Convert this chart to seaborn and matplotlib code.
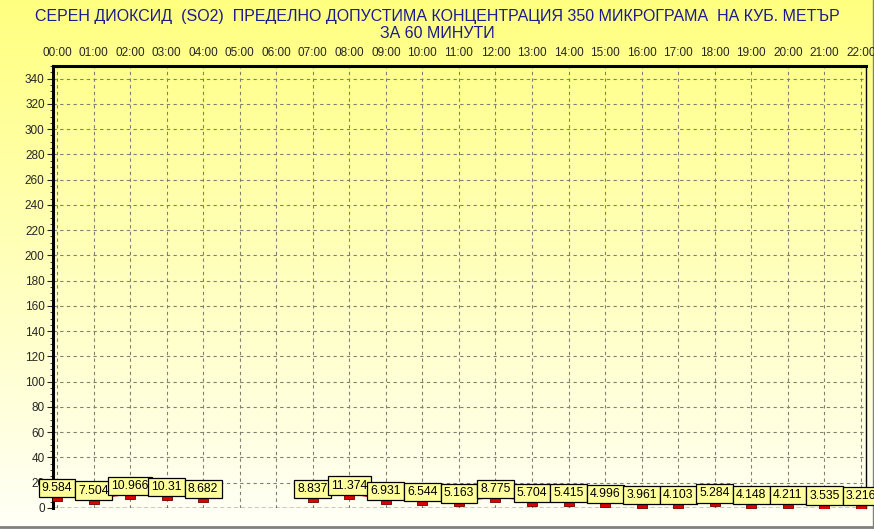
import numpy as np
import pandas as pd
import matplotlib
matplotlib.use("Agg")
import matplotlib.pyplot as plt
import seaborn as sns
from matplotlib.ticker import MultipleLocator

hours = ["00:00", "01:00", "02:00", "03:00", "04:00", "05:00", "06:00", "07:00",
         "08:00", "09:00", "10:00", "11:00", "12:00", "13:00", "14:00", "15:00",
         "16:00", "17:00", "18:00", "19:00", "20:00", "21:00", "22:00"]
values = [9.584, 7.504, 10.966, 10.31, 8.682, None, None, 8.837,
          11.374, 6.931, 6.544, 5.163, 8.775, 5.704, 5.415, 4.996,
          3.961, 4.103, 5.284, 4.148, 4.211, 3.535, 3.216]
labels = ["9.584", "7.504", "10.966", "10.31", "8.682", "", "", "8.837",
          "11.374", "6.931", "6.544", "5.163", "8.775", "5.704", "5.415", "4.996",
          "3.961", "4.103", "5.284", "4.148", "4.211", "3.535", "3.216"]
y_ticks = list(range(0, 341, 20))
title = ("СЕРЕН ДИОКСИД  (SO2)  ПРЕДЕЛНО ДОПУСТИМА КОНЦЕНТРАЦИЯ 350 МИКРОГРАМА  НА КУБ. МЕТЪР\n"
         "ЗА 60 МИНУТИ")

df = pd.DataFrame({"pos": np.arange(len(hours)), "hour": hours,
                   "value": [np.nan if v is None else v for v in values],
                   "label": labels})

sns.set_style("white")
plt.rcParams["font.family"] = ["Liberation Sans", "DejaVu Sans"]

fig = plt.figure(figsize=(8.74, 5.29), dpi=100)

# gradient background
bg = fig.add_axes([0, 0, 1, 1], zorder=-5)
grad = np.linspace(0, 1, 256).reshape(-1, 1)
top = np.array([1.0, 1.0, 0.50])
bot = np.array([1.0, 1.0, 0.97])
img = top[None, None, :] * (1 - grad[:, :, None]) + bot[None, None, :] * grad[:, :, None]
bg.imshow(img, aspect="auto", extent=[0, 1, 0, 1])
bg.set_xlim(0, 1); bg.set_ylim(0, 1)
bg.axis("off")
bg.plot([0, 1], [0.004, 0.004], color="#808080", lw=2)
bg.plot([0.999, 0.999], [0, 1], color="#808080", lw=1)

ax = fig.add_axes([53 / 874, 1 - 508 / 529, (866 - 53) / 874, (508 - 66) / 529])
ax.set_facecolor("none")

# connecting line
ax.plot(df["pos"], df["value"], color="#d00000", lw=0.8, zorder=3)
# marker hanging just below the value point
rect = [(-1, -1.0), (1, -1.0), (1, 0.0), (-1, 0.0), (-1, -1.0)]
sns.scatterplot(data=df, x="pos", y="value", ax=ax, marker=rect, s=55,
                color="#dd0000", edgecolor="#700000", linewidth=0.6, zorder=4, legend=False)

for p, v, lab in zip(df["pos"], df["value"], df["label"]):
    if lab:
        ax.annotate(lab, (p, v), xytext=(0, 8), textcoords="offset pixels",
                    ha="center", va="center", fontsize=8.8, color="black", zorder=6,
                    bbox=dict(boxstyle="square,pad=0.26", fc="#ffff9c", ec="black", lw=0.9))

ax.set_xlim(-0.11, 22.14)
ax.set_ylim(0, 350)
ax.set_xticks(df["pos"])
ax.set_xticklabels(hours, fontsize=8.5)
ax.xaxis.tick_top()
ax.set_yticks(y_ticks)
ax.set_yticklabels([str(t) for t in y_ticks], fontsize=8.5)
ax.yaxis.set_minor_locator(MultipleLocator(5))
ax.tick_params(axis="y", which="major", length=4, width=0.8, pad=2, left=True)
ax.tick_params(axis="y", which="minor", length=2, width=0.6, left=True)
ax.tick_params(axis="x", which="major", length=0, pad=5, top=True)
ax.set_xlabel(""); ax.set_ylabel("")

ax.grid(True, which="major", color="#808070", ls=(0, (3, 3)), lw=0.8)
for s in ["left", "top"]:
    ax.spines[s].set_linewidth(2.2)
    ax.spines[s].set_color("black")
ax.spines["right"].set_linewidth(1.0)
ax.spines["right"].set_color("black")
ax.spines["bottom"].set_visible(False)
ax.axhline(0, color="black", lw=1.0, ls=(0, (3, 2)), zorder=2)

fig.text(0.5, 1 - 25 / 529, title, ha="center", va="center", fontsize=11.5,
         color="#1c1c8c", linespacing=1.1)

fig.savefig("out.png", dpi=100)
